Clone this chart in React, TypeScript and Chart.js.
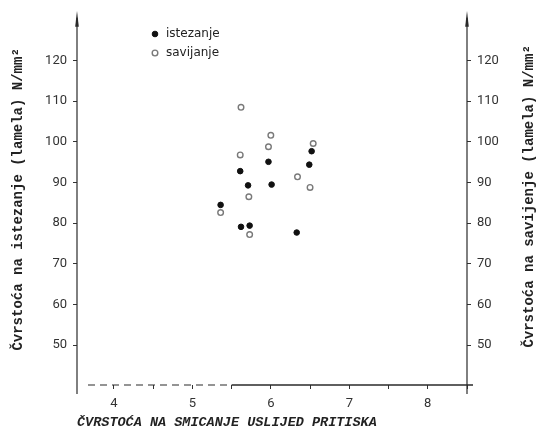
import { useEffect, useRef } from 'react';
import { Chart, registerables } from 'chart.js';

Chart.register(...registerables);

const seriesNames = ['istezanje', 'savijanje'];
const istezanjeX = [6.52, 6.49, 5.97, 5.61, 5.71, 6.01, 5.36, 5.62, 5.73, 6.33];
const istezanjeY = [97.7, 94.4, 95.1, 92.8, 89.3, 89.5, 84.5, 79.1, 79.4, 77.7];
const savijanjeX = [5.62, 6.0, 5.97, 6.54, 5.61, 6.34, 6.5, 5.72, 5.36, 5.73];
const savijanjeY = [108.5, 101.6, 98.8, 99.6, 96.8, 91.4, 88.8, 86.5, 82.6, 77.2];
const yTickValues = [50, 60, 70, 80, 90, 100, 110, 120];
const xTickValues = [4, 4.5, 5, 5.5, 6, 6.5, 7, 7.5, 8, 8.5];
const leftTitle = 'Čvrstoća na istezanje (lamela) N/mm²';
const rightTitle = 'Čvrstoća na savijenje (lamela) N/mm²';
const xTitle = 'ČVRSTOĆA NA SMICANJE USLIJED PRITISKA';

const X_MIN = 3.53;
const X_MAX = 8.5;
const Y_MIN = 40.2;
const Y_MAX = 131.5;

const TICK_FONT = { family: 'Roboto, "Liberation Sans", sans-serif', size: 13 };
const TITLE_FONT = { family: '"Liberation Mono", "DejaVu Sans Mono", monospace', size: 14, weight: 'bold' as const, lineHeight: 1 };

export default function App() {
  const ref = useRef<HTMLCanvasElement | null>(null);

  useEffect(() => {
    if (!ref.current) return;

    const axesPlugin = {
      id: 'axesDecor',
      afterLayout(chart: any) {
        const lg = chart.legend;
        if (lg) {
          const w = lg.width;
          const h = lg.height;
          lg.left = 143;
          lg.top = 21;
          lg.right = lg.left + w;
          lg.bottom = lg.top + h;
        }
      },
      afterDraw(chart: any) {
        const ctx = chart.ctx as CanvasRenderingContext2D;
        const { left, right, top, bottom } = chart.chartArea;
        const xs = chart.scales.x;
        ctx.save();
        ctx.strokeStyle = '#2a2a2a';
        ctx.fillStyle = '#2a2a2a';
        ctx.lineWidth = 1.2;
        const vAxis = (x: number) => {
          ctx.beginPath();
          ctx.moveTo(x, bottom + 9);
          ctx.lineTo(x, top + 4);
          ctx.stroke();
          ctx.beginPath();
          ctx.moveTo(x, top - 3);
          ctx.lineTo(x - 1.8, top + 13);
          ctx.lineTo(x + 1.8, top + 13);
          ctx.closePath();
          ctx.fill();
        };
        vAxis(left);
        vAxis(right);
        const mid = xs.getPixelForValue(5.5);
        ctx.lineWidth = 1.1;
        ctx.setLineDash([7, 5]);
        ctx.beginPath();
        ctx.moveTo(left + 11, bottom);
        ctx.lineTo(mid, bottom);
        ctx.stroke();
        ctx.setLineDash([]);
        ctx.lineWidth = 1.3;
        ctx.beginPath();
        ctx.moveTo(mid, bottom);
        ctx.lineTo(right + 6, bottom);
        ctx.stroke();
        // right title, reading bottom-to-top like the left one
        ctx.translate(529, (top + bottom) / 2 - 3);
        ctx.rotate(-Math.PI / 2);
        ctx.font = 'bold 14px "Liberation Mono", "DejaVu Sans Mono", monospace';
        ctx.fillStyle = '#222';
        ctx.textAlign = 'center';
        ctx.textBaseline = 'middle';
        ctx.fillText(rightTitle, 0, 0);
        ctx.restore();
      },
    };

    const yTickCfg = {
      font: TICK_FONT,
      color: '#333',
      padding: 6,
    };

    const chart = new Chart(ref.current, {
      type: 'scatter',
      data: {
        datasets: [
          {
            label: seriesNames[0],
            data: istezanjeX.map((x, i) => ({ x, y: istezanjeY[i] })),
            pointStyle: 'circle',
            pointRadius: 2.8,
            backgroundColor: '#111',
            borderColor: '#111',
            borderWidth: 1,
          },
          {
            label: seriesNames[1],
            data: savijanjeX.map((x, i) => ({ x, y: savijanjeY[i] })),
            pointStyle: 'circle',
            pointRadius: 2.8,
            backgroundColor: '#fff',
            borderColor: '#7a7a7a',
            borderWidth: 1.4,
          },
        ],
      },
      options: {
        animation: false,
        responsive: false,
        layout: { padding: { top: 12, left: 0, right: 0, bottom: 0 } },
        plugins: {
          legend: {
            position: 'chartArea',
            align: 'start',
            labels: {
              usePointStyle: true,
              boxWidth: 10,
              boxHeight: 4,
              padding: 7,
              color: '#222',
              font: { family: '"DejaVu Sans", sans-serif', size: 12 },
            },
          },
          tooltip: { enabled: false },
        },
        scales: {
          x: {
            type: 'linear',
            position: 'bottom',
            min: X_MIN,
            max: X_MAX,
            afterFit(scale: any) {
              scale.height = 44;
            },
            afterBuildTicks(scale: any) {
              scale.ticks = xTickValues.map((v) => ({ value: v }));
            },
            border: { display: false },
            grid: { display: true, drawOnChartArea: false, drawTicks: true, tickLength: 4, color: '#333' },
            ticks: {
              font: TICK_FONT,
              color: '#333',
              padding: 7,
              autoSkip: false,
              maxRotation: 0,
              callback: (v: any) => (Number.isInteger(Number(v)) ? String(v) : ''),
            },
            title: {
              display: true,
              text: xTitle,
              align: 'start',
              color: '#222',
              font: { family: '"Liberation Mono", "DejaVu Sans Mono", monospace', size: 13.5, weight: 'bold', style: 'italic', lineHeight: 1 },
              padding: { top: 0, bottom: 0 },
            },
          },
          y: {
            type: 'linear',
            position: 'left',
            min: Y_MIN,
            max: Y_MAX,
            afterFit(scale: any) {
              scale.width = 77;
            },
            afterBuildTicks(scale: any) {
              scale.ticks = yTickValues.map((v) => ({ value: v }));
            },
            border: { display: false },
            grid: { display: true, drawOnChartArea: false, drawTicks: true, tickLength: 4, color: '#333' },
            ticks: yTickCfg,
            title: {
              display: true,
              text: leftTitle,
              color: '#222',
              font: TITLE_FONT,
              padding: { top: 11, bottom: 0 },
            },
          },
          y2: {
            type: 'linear',
            position: 'right',
            min: Y_MIN,
            max: Y_MAX,
            afterFit(scale: any) {
              scale.width = 74;
            },
            afterBuildTicks(scale: any) {
              scale.ticks = yTickValues.map((v) => ({ value: v }));
            },
            border: { display: false },
            grid: { display: true, drawOnChartArea: false, drawTicks: true, tickLength: 4, color: '#333' },
            ticks: yTickCfg,
          },
        },
      } as any,
      plugins: [axesPlugin],
    });

    return () => chart.destroy();
  }, []);

  return (
    <div style={{ position: 'absolute', left: 0, top: 0, width: 541, height: 429, background: '#fff' }}>
      <canvas ref={ref} width={541} height={429} style={{ display: 'block' }} />
    </div>
  );
}
